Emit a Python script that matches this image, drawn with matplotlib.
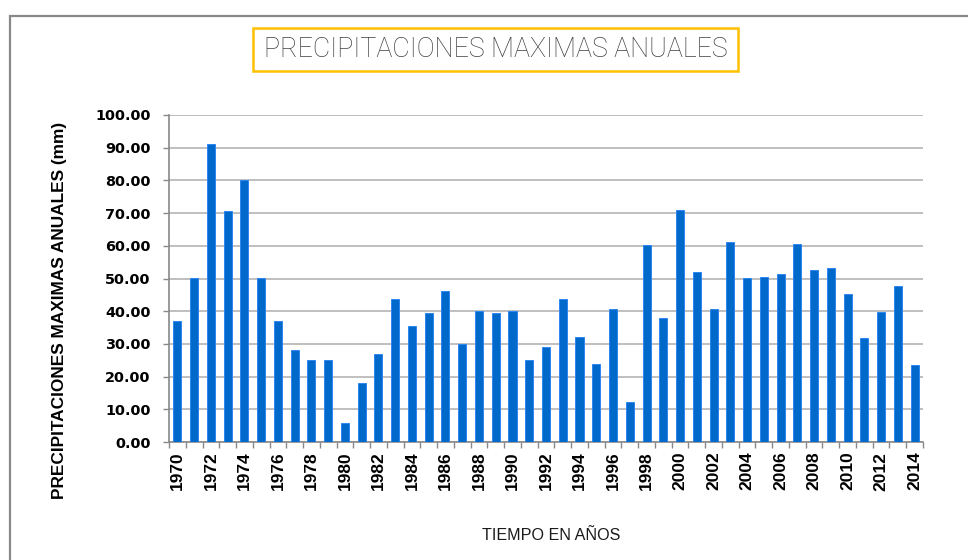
import matplotlib
matplotlib.use("Agg")
import matplotlib.pyplot as plt
from matplotlib.patches import Rectangle
from matplotlib.lines import Line2D
from matplotlib.ticker import FixedLocator, FuncFormatter

years = list(range(1970, 2015))
precip = [37.1, 50.1, 91.2, 70.5, 80.2, 50.1, 37.1, 28.1, 25.0, 25.0,
          5.9, 18.1, 26.8, 43.6, 35.6, 39.3, 46.2, 30.1, 40.1, 39.3,
          40.1, 25.0, 28.9, 43.6, 32.0, 23.8, 40.8, 12.2, 60.1, 37.8,
          70.8, 51.9, 40.7, 61.3, 50.1, 50.5, 51.4, 60.7, 52.6, 53.2,
          45.4, 31.9, 39.9, 47.8, 23.5]
y_ticks = [0, 10, 20, 30, 40, 50, 60, 70, 80, 90, 100]

title = "PRECIPITACIONES MAXIMAS ANUALES"
ylabel = "PRECIPITACIONES MAXIMAS ANUALES (mm)"
xlabel = "TIEMPO EN AÑOS"

W, H = 968, 560
fig = plt.figure(figsize=(W / 100, H / 100), dpi=100)
fig.patch.set_facecolor("white")

# outer chart border
fig.add_artist(Line2D([10 / W, 10 / W, 1.0], [0.0, 1 - 16 / H, 1 - 16 / H],
                      transform=fig.transFigure, color="#898989", lw=1.6,
                      solid_joinstyle="miter"))

ax = fig.add_axes([169 / W, 1 - 442 / H, (923 - 169) / W, (442 - 115) / H])
pos = list(range(len(years)))
ax.bar(pos, precip, width=0.48, color="#0069C9", edgecolor="#2f86f2",
       linewidth=0.7, zorder=3)

ax.set_xlim(-0.5, len(years) - 0.5)
ax.set_ylim(0, 100)

ax.set_yticks(y_ticks)
ax.yaxis.set_major_formatter(FuncFormatter(lambda v, p: f"{v:.2f}"))
ax.grid(axis="y", color="#bfbfbf", lw=1.4, zorder=0)
ax.tick_params(axis="y", direction="out", length=4.3, width=1, color="#898989",
               pad=9)
for lab in ax.get_yticklabels():
    lab.set_fontfamily("DejaVu Sans")
    lab.set_fontweight("bold")
    lab.set_fontsize(10.4)

major = [i for i, y in enumerate(years) if y % 2 == 0]
ax.set_xticks(major)
ax.set_xticklabels([str(years[i]) for i in major], rotation=90,
                   fontfamily="Liberation Sans", fontweight="bold", fontsize=12.5)
ax.xaxis.set_minor_locator(FixedLocator([i - 0.5 for i in range(len(years) + 1)]))
ax.tick_params(axis="x", which="major", length=0, pad=7)
ax.tick_params(axis="x", which="minor", direction="out", length=4.3, width=1,
               color="#898989")

for s in ["top", "right"]:
    ax.spines[s].set_visible(False)
for s in ["left", "bottom"]:
    ax.spines[s].set_color("#898989")
    ax.spines[s].set_linewidth(1.2)

# y axis title
fig.text(60 / W, 1 - 310 / H, ylabel, rotation=90, ha="center", va="center",
         fontfamily="Liberation Sans", fontweight="bold", fontsize=12.4,
         color="#000000")

# x axis title
fig.text(551 / W, 1 - 536 / H, xlabel, ha="center", va="center",
         fontfamily=["Liberation Sans Narrow", "Liberation Sans"], fontsize=11.6,
         fontweight="medium", color="#1a1a1a")

# title with orange box
fig.add_artist(Rectangle((253 / W, 1 - 71 / H), 485 / W, 43 / H,
                         transform=fig.transFigure, fill=False,
                         edgecolor="#FFC000", lw=1.8))
fig.text(496 / W, 1 - 49.5 / H, title, ha="center", va="center",
         fontfamily="Roboto", fontweight="light", fontsize=19.3, color="#404040")

fig.savefig("out.png", dpi=100)
